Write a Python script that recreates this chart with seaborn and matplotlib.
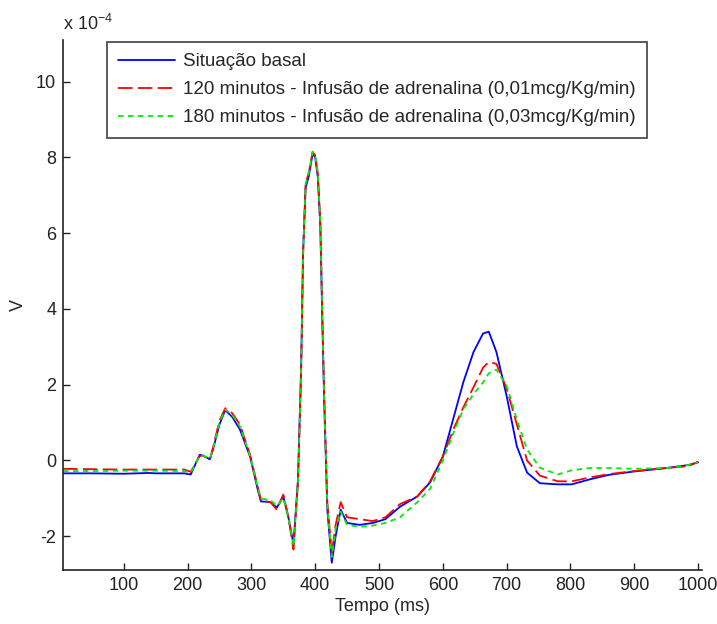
import matplotlib
matplotlib.use("Agg")
import matplotlib.pyplot as plt
import seaborn as sns

# time points (ms) shared by the three traces
tempo = [5, 50, 100, 140, 150, 195, 205, 219, 224, 235, 240, 250, 259, 270, 282, 298,
         310, 315, 330, 340, 350, 358, 366, 373, 378, 381, 385, 390, 396, 400, 404,
         408, 411, 414, 419, 426, 432, 440, 450, 470, 490, 510, 533, 560, 580, 600,
         616, 632, 648, 663, 672, 684, 700, 716, 732, 752, 780, 802, 830, 860, 900,
         950, 985, 1000]

# values in units of 1e-4 V
basal = [-0.34, -0.34, -0.35, -0.33, -0.34, -0.34, -0.37, 0.15, 0.13, 0.03, 0.3, 0.95,
         1.33, 1.15, 0.82, 0.1, -0.77, -1.08, -1.1, -1.24, -0.95, -1.5, -2.2, -0.5,
         2.5, 5.5, 7.2, 7.5, 8.1, 8.0, 7.5, 6.2, 3.8, 1.6, -1.3, -2.7, -2.0, -1.3,
         -1.65, -1.7, -1.65, -1.55, -1.22, -0.95, -0.58, 0.1, 1.08, 2.06, 2.86, 3.35,
         3.4, 2.86, 1.7, 0.37, -0.32, -0.6, -0.63, -0.63, -0.5, -0.38, -0.29, -0.2,
         -0.12, -0.05]

adren_120 = [-0.22, -0.23, -0.24, -0.24, -0.24, -0.24, -0.3, 0.12, 0.13, 0.02, 0.35,
             1.05, 1.38, 1.25, 0.95, 0.15, -0.7, -1.05, -1.1, -1.3, -0.9, -1.5, -2.35,
             -0.6, 2.3, 5.4, 7.3, 7.6, 8.15, 8.05, 7.6, 6.3, 4.0, 1.8, -1.1, -2.45,
             -1.7, -1.1, -1.5, -1.55, -1.6, -1.5, -1.15, -0.95, -0.55, 0.1, 0.8, 1.4,
             1.93, 2.45, 2.6, 2.55, 1.9, 0.95, 0.0, -0.4, -0.55, -0.55, -0.45, -0.36,
             -0.28, -0.2, -0.15, -0.03]

adren_180 = [-0.28, -0.28, -0.27, -0.27, -0.27, -0.28, -0.32, 0.12, 0.13, 0.05, 0.3,
             1.0, 1.35, 1.2, 0.9, 0.12, -0.72, -1.0, -1.05, -1.2, -1.0, -1.5, -2.25,
             -0.6, 2.4, 5.4, 7.3, 7.6, 8.15, 8.05, 7.6, 6.3, 4.0, 1.7, -1.2, -2.55,
             -1.8, -1.35, -1.7, -1.75, -1.72, -1.65, -1.5, -1.1, -0.75, 0.0, 0.7, 1.35,
             1.75, 2.06, 2.3, 2.4, 1.97, 1.08, 0.29, -0.19, -0.37, -0.26, -0.2, -0.2,
             -0.22, -0.2, -0.12, -0.05]

labels = ["Situação basal",
          "120 minutos - Infusão de adrenalina (0,01mcg/Kg/min)",
          "180 minutos - Infusão de adrenalina (0,03mcg/Kg/min)"]

sns.set_style("white")
plt.rcParams['font.family'] = ['Liberation Sans', 'DejaVu Sans']
plt.rcParams['mathtext.default'] = 'regular'

fig = plt.figure(figsize=(7.17, 6.24), dpi=100)
ax = fig.add_axes([0.088, 0.086, 0.891, 0.85])

sns.lineplot(x=tempo, y=basal, color='#0000ff', lw=1.3, label=labels[0], ax=ax)
sns.lineplot(x=tempo, y=adren_120, color='#ff0000', lw=1.3, ls=(0, (8, 3)),
             label=labels[1], ax=ax)
sns.lineplot(x=tempo, y=adren_180, color='#00ee00', lw=1.3, ls=(0, (3, 2.5)),
             label=labels[2], ax=ax)

ax.set_xlim(5, 1006)
ax.set_ylim(-2.9, 11.1)
ax.set_xticks(range(100, 1001, 100))
ax.set_yticks(range(-2, 11, 2))
ax.set_yticklabels([str(v) for v in range(-2, 11, 2)])
ax.tick_params(direction='in', length=5, width=1, labelsize=13, colors='#222222',
               top=False, right=False, left=True, bottom=True, pad=5)
for s in ['top', 'right']:
    ax.spines[s].set_visible(False)
for s in ['left', 'bottom']:
    ax.spines[s].set_color('#222222')
    ax.spines[s].set_linewidth(1.2)

ax.set_xlabel('Tempo (ms)', fontsize=13, labelpad=3)
ax.set_ylabel('V', fontsize=13)
ax.yaxis.set_label_coords(-0.056, 0.5)
ax.text(0.0, 1.012, 'x 10$^{-4}$', transform=ax.transAxes, fontsize=13,
        ha='left', va='bottom')

leg = ax.legend(loc='upper left', bbox_to_anchor=(0.069, 0.996), borderaxespad=0,
                fontsize=13.5, frameon=True, fancybox=False, edgecolor='#222222',
                handlelength=3.0, borderpad=0.6, labelspacing=0.58,
                handletextpad=0.45)
leg.get_frame().set_linewidth(1.3)

fig.savefig('out.png', dpi=100, facecolor='white')
